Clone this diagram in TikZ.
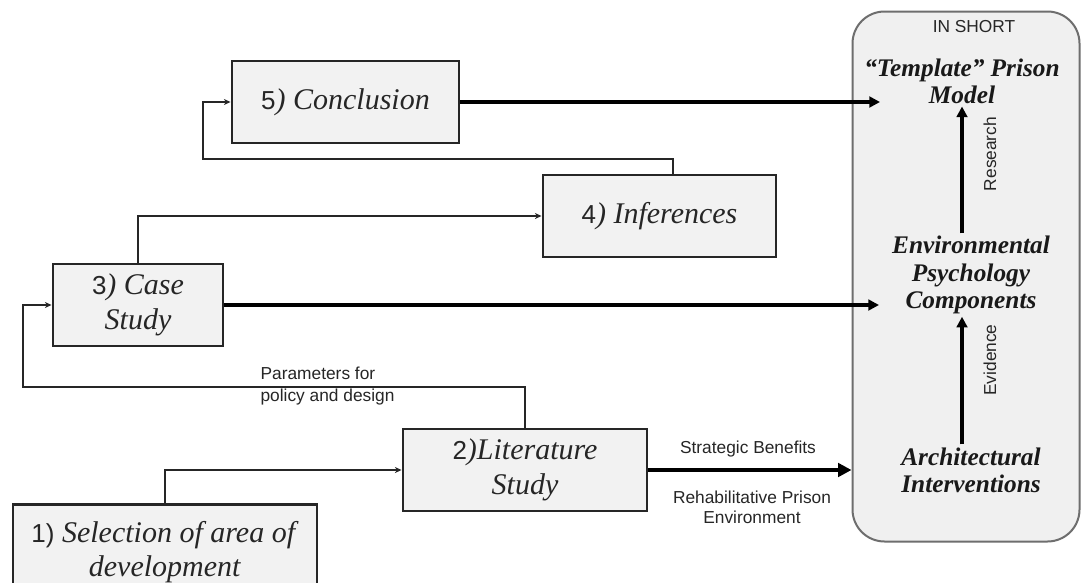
\documentclass[tikz,border=0pt]{standalone}
\usepackage{fontspec}
\setmainfont{Liberation Serif}
\setsansfont{Liberation Sans}
\usetikzlibrary{arrows.meta,shadows}
\definecolor{boxfill}{HTML}{F2F2F2}
\definecolor{panelfill}{HTML}{F0F0F0}
\definecolor{panelline}{HTML}{6E6E6E}
\definecolor{lineclr}{HTML}{262626}
\newcommand\stepnum[1]{{\sffamily\fontsize{19.5}{26}\selectfont #1}}
\begin{document}
\begin{tikzpicture}[x=0.75pt,y=-0.75pt,
 stepbox/.style={draw=lineclr, line width=2.2pt, fill=boxfill, align=center, inner sep=0pt,
   font=\fontsize{22.5}{26}\selectfont, text=black!85, drop shadow={shadow xshift=1pt,shadow yshift=-1pt,opacity=0.25}},
 conn/.style={draw=lineclr, line width=1.1pt, -{Stealth[length=5pt,width=4.5pt]}},
 bigarrow/.style={draw=black, line width=2.6pt, -{Triangle[length=8pt,width=8pt]}},
 lbl/.style={font=\sffamily\fontsize{13}{16.5}\selectfont, text=black!85, inner sep=1pt},
 paneltext/.style={font=\bfseries\itshape\fontsize{19}{20.5}\selectfont, text=black!90, align=center, inner sep=2pt},
]
\useasboundingbox (0,0) rectangle (1081,582);
\fill[white] (0,0) rectangle (1081,582);

% right panel
\node[draw=panelline, line width=1.5pt, fill=panelfill, rounded corners=24pt,
      minimum width=0.75*227pt, minimum height=0.75*530pt, inner sep=0pt] (panel) at (966,276.5) {};

% step boxes
\node[stepbox, minimum width=0.75*304pt, minimum height=0.75*95pt] (b1) at (165,552)
  {\stepnum{1)} \textit{Selection of area of}\\\textit{development}};
\node[stepbox, minimum width=0.75*244pt, minimum height=0.75*82pt] (b2) at (525,470)
  {\stepnum{2}\textit{)Literature}\\\textit{Study}};
\node[stepbox, minimum width=0.75*170pt, minimum height=0.75*82pt] (b3) at (138,305)
  {\stepnum{3}\textit{) Case}\\\textit{Study}};
\node[stepbox, minimum width=0.75*233pt, minimum height=0.75*82pt] (b4) at (659.5,216)
  {\stepnum{4}\textit{) Inferences}};
\node[stepbox, minimum width=0.75*227pt, minimum height=0.75*82pt] (b5) at (345.5,102)
  {\stepnum{5}\textit{) Conclusion}};

% panel texts
\node[lbl] (insh) at (974,27) {IN SHORT};
\node[paneltext] (tm) at (962,81) {“Template” Prison\\Model};
\node[paneltext] (ep) at (971,275) {Environmental\\Psychology\\Components};
\node[paneltext] (ai) at (971,470) {Architectural\\Interventions};

% free ends of the long arrows
\coordinate (e5) at (880,102);
\coordinate (e3) at (879,305);
\coordinate (p1) at (23,387);
\coordinate (p2) at (203,159);

% thin connectors
\draw[conn] (b1.north) |- (b2.west);
\draw[conn] (b2.north) |- (p1) |- (b3.west);
\draw[conn] (b3.north) |- (b4.west);
\draw[conn] ([xshift=10pt]b4.north) |- (p2) |- (b5.west);

% thick arrows
\draw[bigarrow] (b5.east) -- (b5.east -| e5);
\draw[bigarrow] (b3.east) -- (b3.east -| e3);
\draw[bigarrow, -{Triangle[length=10pt,width=10pt]}] (b2.east) -- (b2.east -| panel.west);
\draw[bigarrow] (ep.north -| tm.south) -- (tm.south);
\draw[bigarrow] (ai.north -| tm.south) -- (ep.south -| tm.south);

% labels
\node[lbl, rotate=90] (rs) at (990,154) {Research};
\node[lbl, rotate=90] (ev) at (990,360) {Evidence};
\node[lbl, anchor=west, align=left] (par) at (259,386) {Parameters for\\policy and design};
\node[lbl] (sb) at (748,449) {Strategic Benefits};
\node[lbl, align=center, font=\sffamily\fontsize{13}{15}\selectfont] (rp) at (752,507) {Rehabilitative Prison\\Environment};
\end{tikzpicture}
\end{document}
